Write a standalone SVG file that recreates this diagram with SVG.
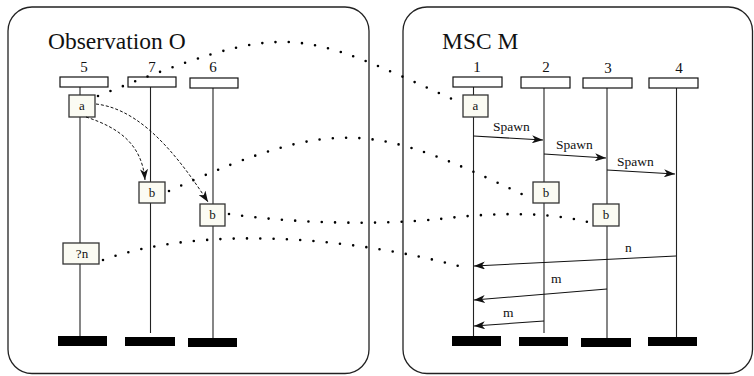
<svg xmlns="http://www.w3.org/2000/svg" width="754" height="376" viewBox="0 0 754 376">
<defs>
<style>
text{font-family:'Liberation Serif','Times New Roman','DejaVu Serif',serif;fill:#111}
.frame{fill:none;stroke:#222;stroke-width:1.3}
.title{font-size:23.5px}
.num{font-size:15px;text-anchor:middle}
.lbl{font-size:13.5px}
.box{font-size:13px;text-anchor:middle}
.head{fill:#fff;stroke:#111;stroke-width:1.2}
.act{fill:#fbfbf3;stroke:#333;stroke-width:1.3}
.end{fill:#000}
.life{stroke:#222;stroke-width:1.1;fill:none}
.msg{stroke:#111;stroke-width:1.1;fill:none;marker-end:url(#ah)}
.dash{stroke:#111;stroke-width:1;fill:none;stroke-dasharray:3 2;marker-end:url(#ah)}
.dot{stroke:#000;stroke-width:2.6;fill:none;stroke-linecap:round;stroke-dasharray:0 13.3}
</style>
<marker id="ah" markerUnits="userSpaceOnUse" markerWidth="12" markerHeight="8" refX="11" refY="4" orient="auto">
<path d="M0,0 L11,4 L0,8 L3,4 z" fill="#111"/>
</marker>
</defs>

<rect class="frame" x="8" y="7" width="361" height="366.5" rx="24"/>
<rect class="frame" x="403" y="7" width="349.5" height="366.5" rx="24"/>
<text class="title" x="48" y="49" font-family="Liberation Serif, serif">Observation O</text>
<text class="title" x="442" y="49" font-family="Liberation Serif, serif">MSC M</text>

<g id="l5">
<text class="num" x="84" y="72">5</text>
<line class="life" x1="80" y1="87" x2="80" y2="336"/>
<rect class="head" x="60" y="77" width="48" height="10"/>
<rect class="end" x="58" y="336" width="49" height="10"/>
</g>
<g id="l7">
<text class="num" x="152" y="72">7</text>
<line class="life" x1="150.5" y1="87" x2="150.5" y2="333"/>
<rect class="head" x="128" y="77" width="48" height="10"/>
<rect class="end" x="125" y="337" width="50" height="9"/>
</g>
<g id="l6">
<text class="num" x="213" y="72">6</text>
<line class="life" x1="213" y1="88" x2="213" y2="338"/>
<rect class="head" x="190" y="78" width="48" height="10"/>
<rect class="end" x="188" y="338" width="49" height="9"/>
</g>
<g id="l1">
<text class="num" x="477" y="72">1</text>
<line class="life" x1="473.5" y1="87" x2="473.5" y2="336"/>
<rect class="head" x="453" y="77" width="49" height="10"/>
<rect class="end" x="452" y="336" width="49" height="10"/>
</g>
<g id="l2">
<text class="num" x="546" y="72">2</text>
<line class="life" x1="544" y1="88" x2="544" y2="333"/>
<rect class="head" x="521" y="77" width="49" height="11"/>
<rect class="end" x="519" y="337" width="49" height="9"/>
</g>
<g id="l3">
<text class="num" x="608" y="73">3</text>
<line class="life" x1="607" y1="88" x2="607" y2="338"/>
<rect class="head" x="583" y="78" width="49" height="10"/>
<rect class="end" x="581" y="338" width="50" height="9"/>
</g>
<g id="l4">
<text class="num" x="679" y="73">4</text>
<line class="life" x1="676.5" y1="88" x2="676.5" y2="337"/>
<rect class="head" x="649" y="78" width="49" height="10"/>
<rect class="end" x="648" y="337" width="49" height="9"/>
</g>

<g id="oa"><rect class="act" x="69" y="95" width="26" height="22"/><text class="box" x="82" y="110">a</text></g>
<g id="ob7"><rect class="act" x="139" y="182" width="26" height="21"/><text class="box" x="152" y="197">b</text></g>
<g id="ob6"><rect class="act" x="200" y="204" width="25" height="22"/><text class="box" x="212.5" y="219">b</text></g>
<g id="on"><rect class="act" x="63" y="243" width="36" height="21"/><text class="box" x="82" y="258">?n</text></g>
<g id="ma"><rect class="act" x="463" y="95" width="25" height="22"/><text class="box" x="475.5" y="110">a</text></g>
<g id="mb2"><rect class="act" x="533" y="182" width="26" height="21"/><text class="box" x="546" y="197">b</text></g>
<g id="mb3"><rect class="act" x="593" y="204" width="26" height="22"/><text class="box" x="606" y="219">b</text></g>

<g id="connectors">
<path class="dash" d="M86,117 C120,128 142,145 145,180"/>
<path class="dash" d="M96,104 C130,108 165,135 208,202"/>
<path class="dot" d="M98,96 C293,18 294,28 461,103"/>
<path class="dot" d="M169,191 C339,114 375,124 530,198"/>
<path class="dot" d="M229,214 C300,224 380,225 440,219 C480,214 540,210 588,222"/>
<path class="dot" d="M103,260 C200,225 350,236 466,268"/>
<path class="msg" d="M473.5,136 L543,140"/>
<text class="lbl" x="493" y="131">Spawn</text>
<path class="msg" d="M544,154 L606,158"/>
<text class="lbl" x="556" y="149">Spawn</text>
<path class="msg" d="M607,170 L675,174"/>
<text class="lbl" x="617" y="166">Spawn</text>
<path class="msg" d="M676,256 L474,266"/>
<text class="lbl" x="625" y="252">n</text>
<path class="msg" d="M607,289 L474,300"/>
<text class="lbl" x="551" y="283">m</text>
<path class="msg" d="M544,321 L474,326"/>
<text class="lbl" x="503" y="317">m</text>
</g>
</svg>
